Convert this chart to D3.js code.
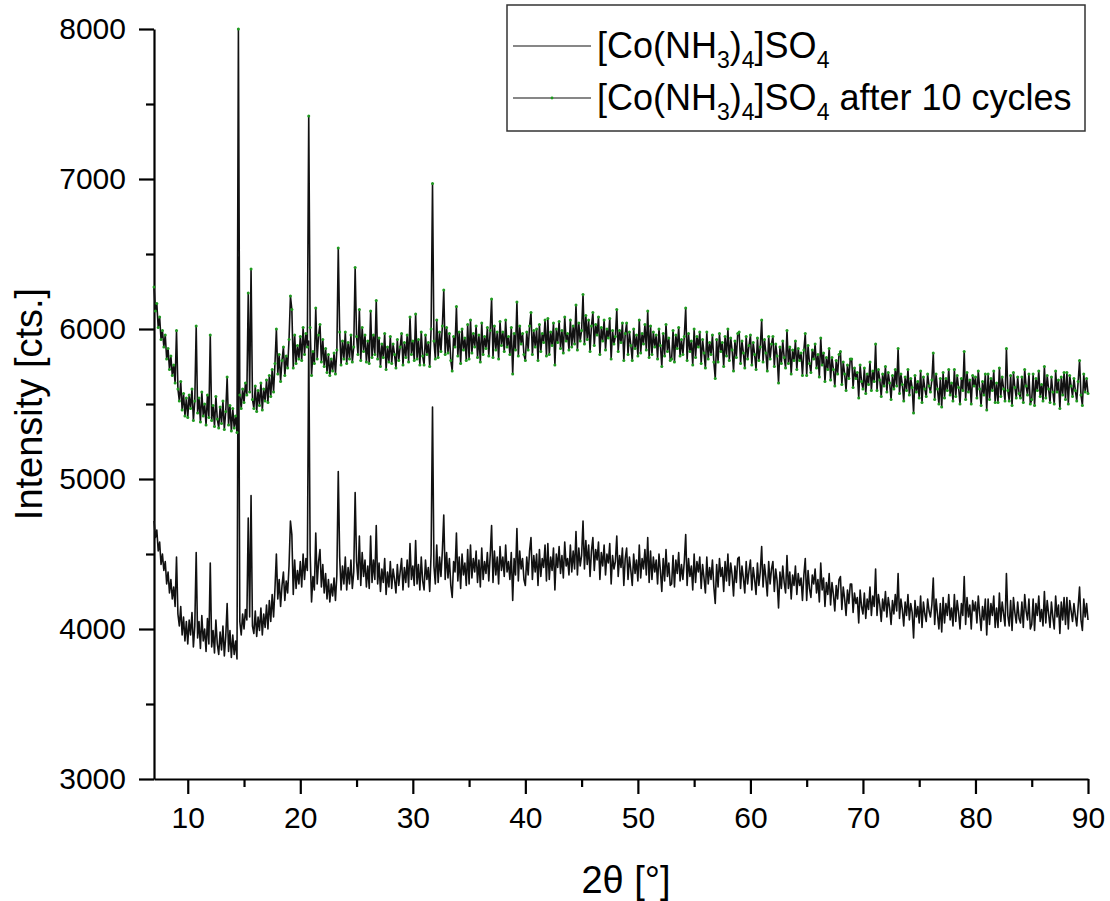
<!DOCTYPE html>
<html>
<head>
<meta charset="utf-8">
<script src="https://cdn.jsdelivr.net/npm/d3@7"></script>
<style>
  body { margin: 0; background: #fff; }
  svg { display: block; }
  text { font-family: "Liberation Sans", Arial, sans-serif; fill: #000; }
</style>
</head>
<body>
<div id="chart"></div>
<script>
const THETA_START = 7;
const THETA_STEP = 0.125;

// [Co(NH3)4]SO4, as prepared (one row per degree, 8 samples each)
const pristineCounts = [
  4720, 4610, 4660, 4520, 4580, 4430, 4500, 4390,  // 7
  4450, 4300, 4380, 4240, 4330, 4200, 4280, 4150,  // 8
  4480, 4100, 4020, 4150, 3960, 4080, 3920, 4050,  // 9
  3900, 4060, 3960, 4110, 3880, 4020, 4510, 3940,  // 10
  4050, 3870, 4090, 3920, 4000, 3850, 4070, 3900,  // 11
  4440, 3880, 3990, 3840, 4060, 3900, 3830, 3980,  // 12
  3860, 4020, 3820, 3950, 4170, 3850, 3990, 3810,  // 13
  3960, 3830, 3920, 3800, 6480, 4050, 3960, 4100,  // 14
  4000, 4130, 4060, 4740, 4080, 4890, 4020, 3970,  // 15
  4120, 3950, 4080, 3990, 4140, 3960, 4100, 4010,  // 16
  4160, 4000, 4190, 4050, 4230, 4080, 4270, 4500,  // 17
  4200, 4330, 4150, 4290, 4380, 4190, 4320, 4240,  // 18
  4420, 4720, 4630, 4230, 4460, 4270, 4390, 4300,  // 19
  4450, 4280, 4500, 4330, 4470, 4390, 5920, 4510,  // 20
  4180, 4350, 4260, 4640, 4300, 4450, 4530, 4280,  // 21
  4430, 4240, 4370, 4200, 4330, 4180, 4300, 4220,  // 22
  4340, 4190, 4360, 5050, 4480, 4260, 4420, 4300,  // 23
  4480, 4260, 4410, 4300, 4460, 4270, 4380, 4910,  // 24
  4450, 4330, 4620, 4290, 4510, 4350, 4460, 4280,  // 25
  4420, 4270, 4620, 4310, 4460, 4330, 4690, 4300,  // 26
  4440, 4250, 4400, 4310, 4470, 4230, 4380, 4280,  // 27
  4450, 4270, 4400, 4330, 4240, 4430, 4290, 4380,  // 28
  4470, 4260, 4410, 4310, 4460, 4280, 4570, 4330,  // 29
  4420, 4290, 4590, 4300, 4430, 4260, 4480, 4320,  // 30
  4260, 4460, 4330, 4410, 4250, 4500, 5480, 4420,  // 31
  4300, 4560, 4310, 4480, 4350, 4520, 4760, 4330,  // 32
  4510, 4340, 4470, 4290, 4210, 4450, 4380, 4640,  // 33
  4320, 4480, 4270, 4500, 4360, 4440, 4290, 4530,  // 34
  4300, 4560, 4340, 4470, 4380, 4520, 4310, 4460,  // 35
  4280, 4540, 4330, 4450, 4370, 4510, 4320, 4490,  // 36
  4690, 4310, 4520, 4360, 4480, 4300, 4550, 4390,  // 37
  4480, 4350, 4560, 4380, 4450, 4330, 4510, 4190,  // 38
  4470, 4360, 4670, 4320, 4520, 4400, 4470, 4330,  // 39
  4290, 4480, 4360, 4520, 4610, 4330, 4490, 4380,  // 40
  4500, 4290, 4530, 4350, 4470, 4410, 4560, 4320,  // 41
  4570, 4330, 4480, 4390, 4540, 4260, 4500, 4410,  // 42
  4550, 4370, 4490, 4340, 4580, 4420, 4470, 4360,  // 43
  4560, 4380, 4520, 4400, 4650, 4360, 4540, 4420,  // 44
  4490, 4720, 4400, 4590, 4430, 4560, 4350, 4520,  // 45
  4610, 4390, 4530, 4460, 4580, 4330, 4510, 4420,  // 46
  4560, 4360, 4500, 4440, 4570, 4300, 4490, 4400,  // 47
  4450, 4620, 4350, 4490, 4410, 4540, 4290, 4470,  // 48
  4540, 4330, 4480, 4390, 4290, 4500, 4370, 4460,  // 49
  4320, 4560, 4340, 4470, 4400, 4530, 4360, 4610,  // 50
  4310, 4520, 4330, 4480, 4380, 4460, 4300, 4500,  // 51
  4390, 4250, 4470, 4320, 4530, 4350, 4440, 4290,  // 52
  4300, 4490, 4280, 4460, 4370, 4510, 4320, 4430,  // 53
  4330, 4450, 4630, 4290, 4470, 4350, 4420, 4260,  // 54
  4500, 4310, 4450, 4380, 4480, 4270, 4430, 4340,  // 55
  4240, 4480, 4300, 4410, 4330, 4460, 4280, 4170,  // 56
  4430, 4280, 4470, 4350, 4410, 4250, 4450, 4320,  // 57
  4500, 4290, 4440, 4360, 4220, 4420, 4310, 4470,  // 58
  4480, 4270, 4420, 4340, 4240, 4450, 4300, 4390,  // 59
  4460, 4260, 4410, 4330, 4230, 4440, 4290, 4380,  // 60
  4550, 4280, 4430, 4340, 4220, 4450, 4300, 4400,  // 61
  4450, 4250, 4400, 4320, 4140, 4380, 4270, 4420,  // 62
  4310, 4240, 4490, 4270, 4380, 4200, 4360, 4290,  // 63
  4420, 4230, 4370, 4290, 4340, 4190, 4360, 4470,  // 64
  4190, 4390, 4270, 4210, 4360, 4300, 4400, 4240,  // 65
  4330, 4180, 4440, 4260, 4340, 4150, 4310, 4230,  // 66
  4370, 4160, 4310, 4230, 4120, 4290, 4200, 4330,  // 67
  4350, 4130, 4280, 4200, 4090, 4260, 4170, 4300,  // 68
  4300, 4110, 4240, 4170, 4210, 4040, 4260, 4150,  // 69
  4100, 4240, 4070, 4200, 4130, 4280, 4090, 4220,  // 70
  4150, 4400, 4090, 4230, 4160, 4050, 4200, 4120,  // 71
  4250, 4080, 4210, 4140, 4030, 4190, 4100, 4230,  // 72
  4120, 4370, 4070, 4200, 4130, 4020, 4180, 4090,  // 73
  4230, 4060, 4170, 4110, 3940, 4190, 4080, 4150,  // 74
  4040, 4220, 4010, 4180, 4100, 4050, 4200, 4120,  // 75
  4080, 4160, 4340, 4030, 4200, 4100, 4000, 4170,  // 76
  3980, 4210, 4040, 4170, 4090, 4230, 4060, 4140,  // 77
  4020, 4230, 4050, 4190, 4110, 4000, 4170, 4090,  // 78
  4350, 4030, 4210, 4080, 4160, 4000, 4190, 4120,  // 79
  4180, 4040, 4220, 4100, 3990, 4150, 4060, 4200,  // 80
  3960, 4200, 4030, 4170, 4090, 4220, 4010, 4140,  // 81
  4010, 4240, 4050, 4180, 4100, 4020, 4370, 4090,  // 82
  4020, 4190, 3990, 4210, 4110, 4040, 4180, 4070,  // 83
  4040, 4180, 4010, 4230, 4120, 4060, 4200, 4000,  // 84
  4030, 4200, 3990, 4170, 4090, 4220, 4050, 4130,  // 85
  4020, 4250, 4040, 4190, 4100, 4010, 4180, 4080,  // 86
  4000, 4220, 4080, 4160, 3970, 4180, 4060, 4210,  // 87
  4030, 4210, 4000, 4190, 4120, 4050, 4170, 4090,  // 88
  4020, 4150, 4280, 4060, 3990, 4200, 4080, 4170,  // 89
  4060                                             // 90
];

// [Co(NH3)4]SO4 after 10 cycles
const cycledCounts = [
  6280, 6120, 6170, 6010, 6080, 5930, 5990, 5880,  // 7
  5960, 5800, 5870, 5730, 5820, 5690, 5760, 5640,  // 8
  5990, 5600, 5520, 5650, 5460, 5570, 5420, 5540,  // 9
  5410, 5560, 5470, 5600, 5390, 5520, 6020, 5440,  // 10
  5540, 5380, 5580, 5420, 5500, 5360, 5560, 5410,  // 11
  5960, 5390, 5490, 5350, 5550, 5400, 5340, 5480,  // 12
  5370, 5520, 5330, 5450, 5680, 5360, 5490, 5320,  // 13
  5470, 5340, 5420, 5310, 8000, 5560, 5470, 5600,  // 14
  5510, 5640, 5560, 6240, 5580, 6400, 5530, 5470,  // 15
  5620, 5450, 5590, 5490, 5640, 5460, 5600, 5520,  // 16
  5660, 5510, 5690, 5550, 5730, 5580, 5770, 6000,  // 17
  5700, 5830, 5650, 5790, 5880, 5690, 5820, 5740,  // 18
  5930, 6220, 6130, 5740, 5960, 5770, 5890, 5800,  // 19
  5950, 5790, 6010, 5830, 5970, 5880, 7420, 6010,  // 20
  5690, 5850, 5770, 6140, 5800, 5960, 6030, 5780,  // 21
  5930, 5750, 5870, 5710, 5830, 5690, 5800, 5720,  // 22
  5840, 5700, 5860, 6540, 5980, 5760, 5920, 5800,  // 23
  5980, 5770, 5910, 5800, 5960, 5780, 5880, 6410,  // 24
  5950, 5830, 6130, 5790, 6010, 5850, 5960, 5780,  // 25
  5920, 5770, 6120, 5810, 5960, 5830, 6190, 5800,  // 26
  5940, 5750, 5900, 5810, 5970, 5730, 5880, 5780,  // 27
  5950, 5770, 5900, 5830, 5740, 5930, 5790, 5880,  // 28
  5970, 5760, 5910, 5810, 5960, 5780, 6080, 5830,  // 29
  5920, 5790, 6100, 5800, 5930, 5760, 5980, 5820,  // 30
  5760, 5960, 5830, 5910, 5750, 6000, 6970, 5920,  // 31
  5800, 6060, 5810, 5980, 5850, 6020, 6260, 5830,  // 32
  6010, 5840, 5970, 5790, 5720, 5950, 5880, 6150,  // 33
  5820, 5980, 5770, 6000, 5860, 5940, 5790, 6030,  // 34
  5800, 6060, 5840, 5970, 5880, 6020, 5810, 5960,  // 35
  5780, 6040, 5830, 5950, 5870, 6010, 5820, 5990,  // 36
  6200, 5810, 6020, 5860, 5980, 5800, 6050, 5890,  // 37
  5980, 5850, 6060, 5880, 5950, 5830, 6010, 5700,  // 38
  5970, 5860, 6180, 5820, 6020, 5900, 5970, 5830,  // 39
  5790, 5980, 5860, 6020, 6110, 5830, 5990, 5880,  // 40
  6000, 5790, 6030, 5850, 5970, 5910, 6060, 5820,  // 41
  6070, 5830, 5980, 5890, 6040, 5760, 6000, 5910,  // 42
  6050, 5870, 5990, 5840, 6080, 5920, 5970, 5860,  // 43
  6060, 5880, 6020, 5900, 6160, 5860, 6040, 5920,  // 44
  5990, 6230, 5900, 6090, 5930, 6060, 5850, 6020,  // 45
  6110, 5890, 6030, 5960, 6080, 5830, 6010, 5920,  // 46
  6060, 5860, 6000, 5940, 6070, 5800, 5990, 5900,  // 47
  5950, 6130, 5850, 5990, 5910, 6040, 5790, 5970,  // 48
  6040, 5830, 5980, 5890, 5790, 6000, 5870, 5960,  // 49
  5820, 6060, 5840, 5970, 5900, 6030, 5860, 6120,  // 50
  5810, 6020, 5830, 5980, 5880, 5960, 5800, 6000,  // 51
  5890, 5750, 5970, 5820, 6030, 5850, 5940, 5790,  // 52
  5800, 5990, 5780, 5960, 5870, 6010, 5820, 5930,  // 53
  5830, 5950, 6140, 5790, 5970, 5850, 5920, 5760,  // 54
  6000, 5810, 5950, 5880, 5980, 5770, 5930, 5840,  // 55
  5740, 5980, 5800, 5910, 5830, 5960, 5780, 5670,  // 56
  5930, 5780, 5970, 5850, 5910, 5750, 5950, 5820,  // 57
  6000, 5790, 5940, 5860, 5720, 5920, 5810, 5970,  // 58
  5980, 5770, 5920, 5840, 5740, 5950, 5800, 5890,  // 59
  5960, 5760, 5910, 5830, 5730, 5940, 5790, 5880,  // 60
  6060, 5780, 5930, 5840, 5720, 5950, 5800, 5900,  // 61
  5950, 5750, 5900, 5820, 5640, 5880, 5770, 5920,  // 62
  5810, 5740, 5990, 5770, 5880, 5700, 5860, 5790,  // 63
  5920, 5730, 5870, 5790, 5840, 5690, 5860, 5970,  // 64
  5690, 5890, 5770, 5710, 5860, 5800, 5900, 5740,  // 65
  5830, 5680, 5940, 5760, 5840, 5650, 5810, 5730,  // 66
  5870, 5660, 5810, 5730, 5620, 5790, 5700, 5830,  // 67
  5850, 5630, 5780, 5700, 5590, 5760, 5670, 5800,  // 68
  5800, 5610, 5740, 5670, 5710, 5540, 5760, 5650,  // 69
  5600, 5740, 5570, 5700, 5630, 5780, 5590, 5720,  // 70
  5650, 5900, 5590, 5730, 5660, 5550, 5700, 5620,  // 71
  5750, 5580, 5710, 5640, 5530, 5690, 5600, 5730,  // 72
  5620, 5870, 5570, 5700, 5630, 5520, 5680, 5590,  // 73
  5730, 5560, 5670, 5610, 5440, 5690, 5580, 5650,  // 74
  5540, 5720, 5510, 5680, 5600, 5550, 5700, 5620,  // 75
  5580, 5660, 5840, 5530, 5700, 5600, 5500, 5670,  // 76
  5480, 5710, 5540, 5670, 5590, 5730, 5560, 5640,  // 77
  5520, 5730, 5550, 5690, 5610, 5500, 5670, 5590,  // 78
  5850, 5530, 5710, 5580, 5660, 5500, 5690, 5620,  // 79
  5680, 5540, 5720, 5600, 5490, 5650, 5560, 5700,  // 80
  5460, 5700, 5530, 5670, 5590, 5720, 5510, 5640,  // 81
  5510, 5740, 5550, 5680, 5600, 5520, 5870, 5590,  // 82
  5520, 5690, 5490, 5710, 5610, 5540, 5680, 5570,  // 83
  5540, 5680, 5510, 5730, 5620, 5560, 5700, 5500,  // 84
  5530, 5700, 5490, 5670, 5590, 5720, 5550, 5630,  // 85
  5520, 5750, 5540, 5690, 5600, 5510, 5680, 5580,  // 86
  5500, 5720, 5580, 5660, 5470, 5680, 5560, 5710,  // 87
  5530, 5710, 5500, 5690, 5620, 5550, 5670, 5590,  // 88
  5520, 5650, 5790, 5560, 5490, 5700, 5580, 5670,  // 89
  5570                                             // 90
];

const xTicks = [10, 20, 30, 40, 50, 60, 70, 80, 90];
const xMinorTicks = [15, 25, 35, 45, 55, 65, 75, 85];
const yTicks = [3000, 4000, 5000, 6000, 7000, 8000];
const yMinorTicks = [3500, 4500, 5500, 6500, 7500];

// Legend labels as [text, isSubscript] runs
const pristineLabel = [["[Co(NH", 0], ["3", 1], [")", 0], ["4", 1], ["]SO", 0], ["4", 1]];
const cycledLabel = [...pristineLabel, [" after 10 cycles", 0]];

const WIDTH = 1110, HEIGHT = 901;
const MARGIN = { left: 154, top: 29, right: 22, bottom: 122 };
const INNER_W = WIDTH - MARGIN.left - MARGIN.right;
const INNER_H = HEIGHT - MARGIN.top - MARGIN.bottom;

const toPoints = counts => counts.map((c, i) => ({ theta: THETA_START + i * THETA_STEP, counts: c }));

const drawXrd = () => {
    const svg = d3.select("#chart")
        .append("svg")
        .attr("width", WIDTH)
        .attr("height", HEIGHT);

    const chart = svg.append("g")
        .attr("transform", `translate(${MARGIN.left}, ${MARGIN.top})`);

    const xScale = d3.scaleLinear().domain([7, 90]).range([0, INNER_W]);
    const yScale = d3.scaleLinear().domain([3000, 8000]).range([INNER_H, 0]);

    // Minor ticks first, the main axes on top of them.
    chart.append("g")
        .attr("transform", `translate(0, ${INNER_H})`)
        .call(d3.axisBottom(xScale).tickValues(xMinorTicks).tickSize(8).tickFormat(""))
        .call(g => g.select(".domain").remove());
    chart.append("g")
        .call(d3.axisLeft(yScale).tickValues(yMinorTicks).tickSize(8).tickFormat(""))
        .call(g => g.select(".domain").remove());

    const xAxis = chart.append("g")
        .attr("transform", `translate(0, ${INNER_H})`)
        .call(d3.axisBottom(xScale).tickValues(xTicks).tickSize(15).tickSizeOuter(0).tickPadding(13));
    const yAxis = chart.append("g")
        .call(d3.axisLeft(yScale).tickValues(yTicks).tickFormat(d3.format("d"))
            .tickSize(15).tickSizeOuter(0).tickPadding(13));

    [xAxis, yAxis].forEach(a => {
        a.selectAll("text").style("font-size", "30px");
    });
    chart.selectAll(".domain, .tick line")
        .attr("stroke", "#000")
        .attr("stroke-width", 2.2);

    // Axis titles
    chart.append("text")
        .attr("x", INNER_W / 2 + 5)
        .attr("y", INNER_H + 114)
        .attr("text-anchor", "middle")
        .style("font-size", "38px")
        .text("2\u03b8 [\u00b0]");

    chart.append("text")
        .attr("transform", `translate(${42 - MARGIN.left}, ${INNER_H / 2}) rotate(-90)`)
        .attr("text-anchor", "middle")
        .style("font-size", "38px")
        .text("Intensity [cts.]");

    const line = d3.line()
        .x(d => xScale(d.theta))
        .y(d => yScale(d.counts));

    const pristine = toPoints(pristineCounts);
    const cycled = toPoints(cycledCounts);

    chart.append("path")
        .datum(pristine)
        .attr("fill", "none")
        .attr("stroke", "#111")
        .attr("stroke-width", 1.6)
        .attr("stroke-linejoin", "round")
        .attr("d", line);

    chart.append("path")
        .datum(cycled)
        .attr("fill", "none")
        .attr("stroke", "#111")
        .attr("stroke-width", 1.6)
        .attr("stroke-linejoin", "round")
        .attr("d", line);

    // Tiny green symbols on every point of the cycled scan
    chart.append("g")
        .selectAll("circle")
        .data(cycled)
        .join("circle")
        .attr("cx", d => xScale(d.theta))
        .attr("cy", d => yScale(d.counts))
        .attr("r", 1.5)
        .attr("fill", "#1f9a1f");

    // Legend box
    const legend = svg.append("g").attr("transform", "translate(507, 5)");
    legend.append("rect")
        .attr("width", 578)
        .attr("height", 126)
        .attr("fill", "#fff")
        .attr("stroke", "#333")
        .attr("stroke-width", 1.5);

    const entries = [
        { label: pristineLabel, y: 41, dot: false },
        { label: cycledLabel, y: 93, dot: true }
    ];
    entries.forEach(e => {
        legend.append("line")
            .attr("x1", 6).attr("x2", 84)
            .attr("y1", e.y).attr("y2", e.y)
            .attr("stroke", "#111")
            .attr("stroke-width", 1.2);
        if (e.dot) {
            legend.append("circle")
                .attr("cx", 45).attr("cy", e.y)
                .attr("r", 1.4)
                .attr("fill", "#1f9a1f");
        }
        const t = legend.append("text")
            .attr("x", 90)
            .attr("y", e.y + 12)
            .style("font-size", "36px");
        let shifted = false;
        e.label.forEach(([str, sub]) => {
            const span = t.append("tspan").text(str);
            if (sub && !shifted) { span.attr("dy", 10).style("font-size", "23px"); shifted = true; }
            else if (sub) { span.style("font-size", "23px"); }
            else if (shifted) { span.attr("dy", -10); shifted = false; }
        });
    });
};

drawXrd();
</script>
</body>
</html>
